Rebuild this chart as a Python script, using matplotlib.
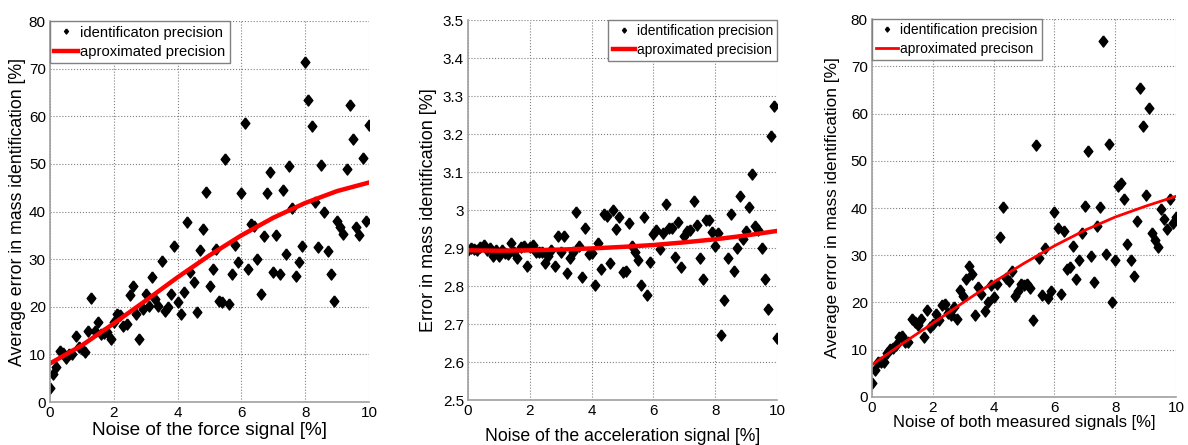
import numpy as np
import matplotlib
matplotlib.use("Agg")
import matplotlib.pyplot as plt

plt.rcParams["font.family"] = ["Liberation Sans", "DejaVu Sans"]

# === Données ===
noise = np.round(np.arange(0, 101) * 0.1, 1)

err_force = [2.9, 5.9, 7.3, 10.7, 10.3, 9.3, 10.0, 10.1, 13.8, 11.5,
             11.2, 10.6, 15.0, 21.8, 15.0, 16.7, 14.3, 14.5, 14.8, 13.3,
             16.8, 18.5, 18.2, 15.9, 16.4, 22.4, 24.4, 18.4, 13.3, 19.5,
             22.6, 20.2, 26.2, 21.6, 20.1, 29.7, 19.1, 19.9, 22.7, 32.8,
             20.9, 18.5, 23.1, 37.8, 27.3, 25.3, 18.8, 32.0, 36.3, 44.2,
             24.3, 28.0, 32.2, 21.2, 21.1, 51.0, 20.5, 26.8, 32.9, 29.5,
             44.0, 58.6, 28.0, 37.4, 36.9, 30.1, 22.7, 34.8, 44.0, 48.3,
             27.4, 35.1, 26.9, 44.6, 31.1, 49.5, 40.8, 26.4, 29.5, 32.8,
             71.5, 63.5, 58.0, 42.0, 32.5, 49.8, 40.0, 31.7, 26.8, 21.3,
             38.1, 36.7, 35.3, 48.9, 62.4, 55.3, 36.7, 35.0, 51.2, 38.0,
             58.2]

err_acc = [2.896, 2.899, 2.897, 2.895, 2.902, 2.908, 2.895, 2.901, 2.879, 2.896,
           2.879, 2.895, 2.886, 2.884, 2.912, 2.889, 2.873, 2.902, 2.906, 2.853,
           2.904, 2.908, 2.889, 2.890, 2.889, 2.860, 2.879, 2.895, 2.854, 2.933,
           2.889, 2.933, 2.835, 2.875, 2.889, 2.994, 2.905, 2.823, 2.952, 2.884,
           2.888, 2.803, 2.914, 2.846, 2.989, 2.984, 2.860, 3.000, 2.949, 2.982,
           2.838, 2.840, 2.965, 2.905, 2.889, 2.868, 2.803, 2.982, 2.776, 2.864,
           2.936, 2.947, 2.897, 2.939, 3.015, 2.954, 2.952, 2.877, 2.968, 2.849,
           2.932, 2.945, 2.947, 3.024, 2.961, 2.873, 2.818, 2.974, 2.975, 2.941,
           2.906, 2.939, 2.671, 2.763, 2.873, 2.989, 2.840, 2.899, 3.038, 2.923,
           2.946, 3.007, 3.095, 2.959, 2.947, 2.899, 2.818, 2.739, 3.195, 3.275,
           2.662]

err_both = [3.0, 5.8, 7.4, 7.4, 7.4, 9.2, 10.1, 10.4, 11.0, 12.6,
            12.9, 11.7, 11.7, 16.4, 15.9, 15.2, 16.6, 12.6, 18.5, 14.8,
            15.4, 17.5, 16.3, 19.4, 19.6, 17.7, 17.3, 19.1, 16.6, 22.6,
            21.3, 24.9, 27.8, 26.1, 17.3, 23.2, 21.9, 18.2, 20.1, 23.7,
            21.2, 24.0, 33.9, 40.3, 25.1, 24.5, 26.7, 21.3, 22.5, 23.9,
            23.8, 24.0, 23.0, 16.3, 53.4, 29.5, 21.6, 31.6, 21.0, 22.4,
            39.2, 35.8, 21.9, 35.2, 27.0, 27.6, 31.9, 24.9, 29.0, 34.8,
            40.5, 52.1, 29.8, 24.4, 36.2, 40.3, 75.3, 30.2, 53.5, 20.1,
            29.1, 44.7, 45.2, 41.9, 32.3, 29.0, 25.6, 37.2, 65.5, 57.4,
            42.8, 61.1, 34.8, 33.2, 31.7, 39.7, 37.7, 35.5, 42.0, 36.9,
            38.0]

# courbes approximées (valeurs lues aux entiers)
fit_x = [0, 1, 2, 3, 4, 5, 6, 7, 8, 9, 10]
fit_force = [8.1, 11.9, 16.5, 21.3, 26.2, 30.8, 35.0, 38.7, 41.8, 44.3, 46.1]
fit_acc = [2.894, 2.893, 2.894, 2.896, 2.899, 2.903, 2.908, 2.915, 2.923, 2.933, 2.945]
fit_both = [6.8, 11.3, 15.6, 20.0, 24.3, 28.3, 32.0, 35.3, 38.1, 40.4, 42.5]

# losange un peu plus haut que large, comme le 'd' de MATLAB
DIAMOND = [(0, 1), (0.78, 0), (0, -1), (-0.78, 0), (0, 1)]


def style_axes(ax, xlabel, ylabel, xfs, yfs, xpad, ypad):
    ax.grid(True, linestyle=":", color="#808080", linewidth=0.8)
    ax.set_axisbelow(True)
    for s in ["top", "right"]:
        ax.spines[s].set_visible(False)
    for s in ["left", "bottom"]:
        ax.spines[s].set_color("#a0a0a0")
        ax.spines[s].set_linewidth(1.2)
    ax.tick_params(direction="in", length=0, labelsize=11, pad=3)
    ax.set_xlabel(xlabel, fontsize=xfs, labelpad=xpad)
    ax.set_ylabel(ylabel, fontsize=yfs, labelpad=ypad)
    ax.set_xlim(0, 10)


def add_legend(ax, loc, fs):
    ax.legend(loc=loc, fontsize=fs, markerscale=0.45, handlelength=1.6,
              fancybox=False, edgecolor="#808080", framealpha=1, borderpad=0.3,
              labelspacing=0.35, handletextpad=0.15, borderaxespad=0)


fig = plt.figure(figsize=(11.88, 4.45), dpi=100)

# === Panneau 1 : bruit de la force ===
ax1 = fig.add_axes([0.0421, 0.0966, 0.2685, 0.856])
ax1.plot(noise, err_force, linestyle="none", marker=DIAMOND, color="black",
         markersize=8, label="identificaton precision")
ax1.plot(fit_x, fit_force, "-", color="red", linewidth=3.2, label="aproximated precision")
ax1.set_ylim(0, 80)
ax1.set_xticks([0, 2, 4, 6, 8, 10])
ax1.set_yticks(range(0, 81, 10))
style_axes(ax1, "Noise of the force signal [%]", "Average error in mass identification [%]", 13.7, 12.8, 1, 2)
add_legend(ax1, "upper left", 10.6)

# === Panneau 2 : bruit de l'accélération ===
ax2 = fig.add_axes([0.394, 0.101, 0.260, 0.854])
ax2.plot(noise, err_acc, linestyle="none", marker=DIAMOND, color="black",
         markersize=8, label="identification precision")
ax2.plot(fit_x, fit_acc, "-", color="red", linewidth=3.2, label="aproximated precision")
ax2.set_ylim(2.5, 3.5)
ax2.set_xticks([0, 2, 4, 6, 8, 10])
ax2.set_yticks(np.round(np.arange(2.5, 3.51, 0.1), 1))
ax2.set_yticklabels(["2.5", "2.6", "2.7", "2.8", "2.9", "3", "3.1", "3.2", "3.3", "3.4", "3.5"])
style_axes(ax2, "Noise of the acceleration signal [%]", "Error in mass identification [%]", 12.7, 13, 7, 4)
add_legend(ax2, "upper right", 9.9)

# === Panneau 3 : les deux signaux ===
ax3 = fig.add_axes([0.734, 0.108, 0.256, 0.849])
ax3.plot(noise, err_both, linestyle="none", marker=DIAMOND, color="black",
         markersize=8, label="identification precision")
ax3.plot(fit_x, fit_both, "-", color="red", linewidth=2, label="aproximated precison")
ax3.set_ylim(0, 80)
ax3.set_xticks([0, 2, 4, 6, 8, 10])
ax3.set_yticks(range(0, 81, 10))
style_axes(ax3, "Noise of both measured signals [%]", "Average error in mass identification [%]", 12, 12.4, 0, 8)
add_legend(ax3, "upper left", 10)

fig.savefig("out.png", dpi=100)
